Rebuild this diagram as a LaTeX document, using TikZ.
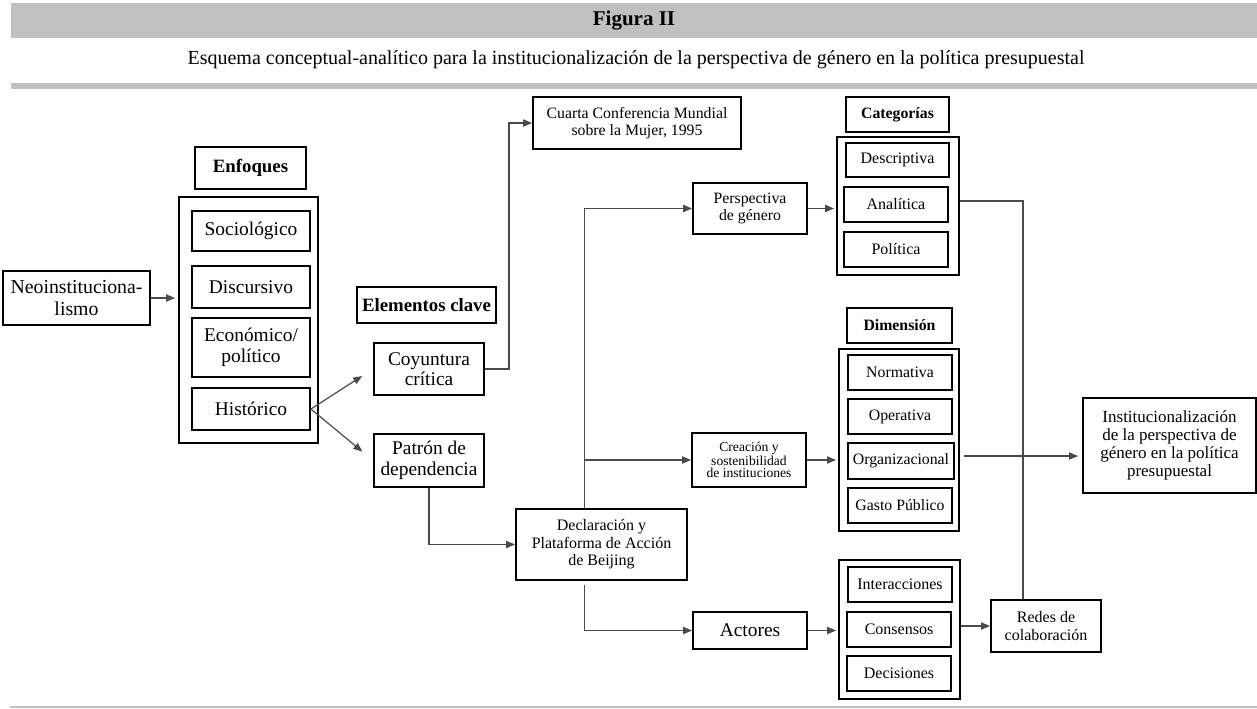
\documentclass[tikz,border=0pt]{standalone}
\usepackage{fontspec}
\setmainfont{Liberation Serif}
\usetikzlibrary{arrows.meta}
\definecolor{band}{HTML}{C0C0C0}
\definecolor{wire}{HTML}{4A4A4A}

\tikzset{
  box/.style={draw=black, line width=0.9pt, inner sep=0pt, align=center},
  conn/.style={draw=wire, line width=0.6pt},
  arr/.style={conn, -{Triangle[length=4.5pt,width=3.6pt]}},
  big/.style={font=\fontsize{9.7}{10.3}\selectfont},
  mid/.style={font=\fontsize{8}{8.7}\selectfont},
  small/.style={font=\fontsize{7.9}{8.6}\selectfont},
  tiny/.style={font=\fontsize{6.8}{6.1}\selectfont},
  head/.style={font=\fontsize{9.4}{9.6}\selectfont\bfseries},
  headsm/.style={font=\fontsize{7.9}{8.6}\selectfont\bfseries},
}

% \bx[style]{name}{x1}{y1}{x2}{y2}{text}: box given by its corners
\newcommand\bx[7][]{%
  \node[box,#1,minimum width={(#5-#3)*0.5pt},minimum height={(#6-#4)*0.5pt}]
    (#2) at ({(#3+#5)/2},{(#4+#6)/2}) {#7};}

\begin{document}
\begin{tikzpicture}[x=0.5pt,y=-0.5pt]
\useasboundingbox (0,0) rectangle (1257,708);

% title band and rules
\fill[band] (11,3) rectangle (1257,38);
\node[font=\fontsize{10.5}{12}\selectfont\bfseries] (fig) at (634,21) {Figura II};
\node[font=\fontsize{10}{11}\selectfont] (sub) at (636,60)
  {Esquema conceptual-analítico para la institucionalización de la perspectiva de género en la política presupuestal};
\fill[band] (11,83) rectangle (1257,89);
\fill[band] (10,706) rectangle (1257,708);

% approaches
\bx[font=\fontsize{9.9}{11}\selectfont]{neo}{3}{271}{150}{325}{Neoinstituciona-\\lismo}
\bx[head]{enf}{195}{147}{306}{189}{Enfoques}
\bx{enfc}{179}{197}{318}{443}{}
\bx[big]{soc}{192}{211}{310}{251}{Sociológico}
\bx[big]{dis}{192}{266}{310}{308}{Discursivo}
\bx[big]{eco}{192}{318}{310}{377}{Económico/\\político}
\bx[big]{his}{192}{388}{310}{430}{Histórico}

% key elements
\bx[head]{elem}{357}{287}{496}{323}{Elementos clave}
\bx[big]{coy}{374}{343}{484}{395}{Coyuntura\\crítica}
\bx[big]{pat}{374}{434}{484}{487}{Patrón de\\dependencia}
\bx[small]{cuarta}{533}{97}{741}{149}{Cuarta Conferencia Mundial\\sobre la Mujer, 1995}
\bx[mid]{decl}{516}{509}{687}{580}{Declaración y\\Plataforma de Acción\\de Beijing}

% branches
\bx[small]{persp}{693}{183}{807}{234}{Perspectiva\\de género}
\bx[tiny]{crea}{692}{433}{806}{487}{Creación y\\sostenibilidad\\de instituciones}
\bx[big]{act}{693}{612}{807}{649}{Actores}

% categories
\bx[headsm]{cat}{846}{97}{949}{132}{Categorías}
\bx{catc}{837}{137}{959}{275}{}
\bx[mid]{desc}{846}{143}{949}{177}{Descriptiva}
\bx[mid]{anal}{844}{187}{948}{222}{Analítica}
\bx[mid]{pol}{844}{232}{948}{267}{Política}

% dimensions
\bx[headsm]{dimt}{847}{308}{952}{343}{Dimensión}
\bx{dimc}{839}{349}{959}{531}{}
\bx[small]{norm}{848}{355}{952}{390}{Normativa}
\bx[small]{oper}{848}{399}{952}{434}{Operativa}
\bx[small]{org}{848}{443}{954}{479}{Organizacional}
\bx[small]{gasto}{848}{488}{952}{523}{Gasto Público}

% actors
\bx{actc}{839}{560}{960}{699}{}
\bx[mid]{inter}{848}{567}{952}{602}{Interacciones}
\bx[mid]{cons}{847}{612}{951}{647}{Consensos}
\bx[mid]{deci}{847}{656}{951}{691}{Decisiones}

\bx[mid]{redes}{991}{600}{1101}{652}{Redes de\\colaboración}
\bx[font=\fontsize{8.5}{9}\selectfont]{inst}{1083}{398}{1256}{493}{Institucionalización\\de la perspectiva de\\género en la política\\presupuestal}

% connectors
\coordinate (trunk) at ([xshift=34.5pt]decl.north west);
\draw[arr, shorten >=1.5pt] (neo.east) -- (neo.east -| enfc.west);
\draw[arr, shorten >=6.5pt] (his.east) -- (coy.west);
\draw[arr, shorten >=7pt] (his.east) -- (pat.west);
\draw[arr] (coy.east) -- ++(24,0) |- (cuarta.west);
\draw[arr] (pat.south) |- (decl.west);
\draw[arr] (trunk) |- (persp.west);
\draw[arr] (trunk |- crea.west) -- (crea.west);
\draw[arr] ([yshift=-2pt]trunk |- decl.south) |- (act.west);
\draw[arr, shorten >=1pt] (persp.east) -- (persp.east -| catc.west);
\draw[arr, shorten >=1pt] (crea.east) -- (crea.east -| dimc.west);
\draw[arr, shorten >=1pt] (act.east) -- (act.east -| actc.west);
\draw[arr] (actc.east |- redes.west) -- (redes.west);
\draw[conn] ([yshift=2.5pt]catc.east) -| ([xshift=-11.5pt]redes.north);
\draw[arr, shorten <=2pt, shorten >=2pt] ([yshift=-8pt]dimc.east) -- ([yshift=-8pt]dimc.east -| inst.west);
\end{tikzpicture}
\end{document}
